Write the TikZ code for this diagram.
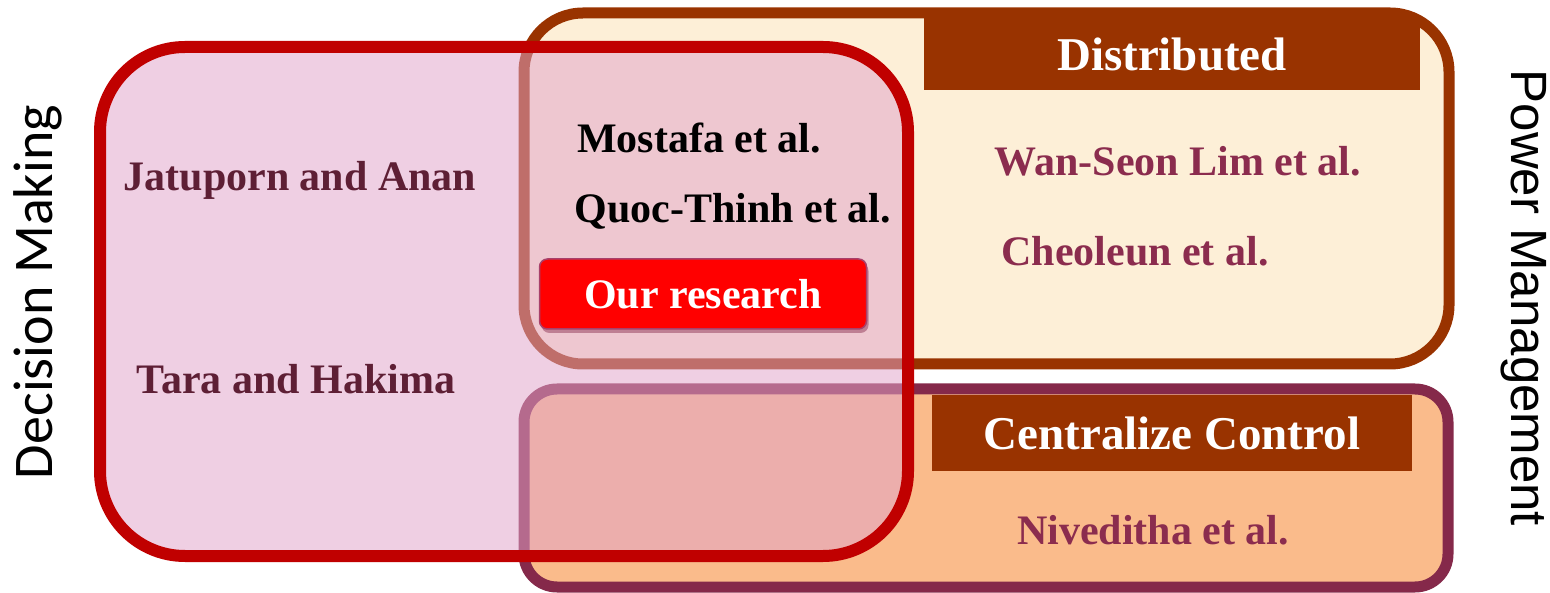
\documentclass[tikz,border=0pt]{standalone}
\usepackage{fontspec}
\setmainfont{Liberation Serif}
\newfontfamily\carlitofont{Carlito}
\newfontfamily\arialfont{Liberation Sans}
\usetikzlibrary{shadows}
\definecolor{brownB}{HTML}{993300}
\definecolor{creamF}{HTML}{FDEFD7}
\definecolor{peachF}{HTML}{FABB8B}
\definecolor{plumB}{HTML}{85294A}
\definecolor{redB}{HTML}{C00000}
\definecolor{pinkF}{RGB}{225,164,202}
\definecolor{darkM}{HTML}{5E1F35}
\definecolor{midM}{HTML}{8B2C4E}
\definecolor{resB}{HTML}{A8406A}
\begin{document}
\begin{tikzpicture}[x=1pt,y=-1pt,
  body/.style={font=\fontsize{42}{50}\selectfont\bfseries, inner sep=0pt},
  hdr/.style={fill=brownB, text=white, font=\fontsize{47}{56}\selectfont\bfseries, inner sep=0pt},
  side/.style={inner sep=0pt, text=black}
]
\useasboundingbox (0,0) rectangle (1550,593);
% top-right box (Distributed)
\draw[fill=creamF, draw=brownB, line width=11pt, rounded corners=59pt] (524,13) rectangle (1449,364);
% bottom-right box (Centralize)
\draw[fill=peachF, draw=plumB, line width=11pt, rounded corners=33pt] (524,389) rectangle (1448,587);
% headers
\node[hdr, minimum width=496pt, minimum height=72pt] (dist) at (1172,54) {Distributed};
\node[hdr, minimum width=480pt, minimum height=76pt] (cent) at (1172,433) {Centralize Control};
% left box (Decision making), translucent fill
\fill[pinkF, fill opacity=0.53, rounded corners=85pt] (100,47) rectangle (908,556);
\draw[draw=redB, line width=12pt, rounded corners=85pt] (100,47) rectangle (908,556);
% texts
\node[body, text=darkM] (jat) at (300,180) {Jatuporn and Anan};
\node[body, text=darkM] (tara) at (296,379) {Tara and Hakima};
\node[body, text=black] (most) at (699,138) {Mostafa et al.};
\node[body, text=black] (quoc) at (733,211) {Quoc-Thinh et al.};
\node[body, text=midM] (wan) at (1178,161) {Wan-Seon Lim et al.};
\node[body, text=midM] (cheo) at (1135,251) {Cheoleun et al.};
\node[body, text=midM] (nive) at (1153,530) {Niveditha et al.};
% our research
\node[fill=red, draw=resB, line width=1.5pt, rounded corners=8pt, text=white,
      minimum width=327pt, minimum height=70pt, inner sep=0pt,
      font=\fontsize{42}{50}\selectfont\bfseries,
      drop shadow={shadow xshift=2pt, shadow yshift=-4pt, opacity=0.45, fill=plumB}] (ours) at (703,294) {Our research};
% side labels
\node[side, rotate=90, font=\carlitofont\fontsize{56}{60}\selectfont] (dm) at (38,292) {Decision Making};
\node[side, rotate=-90, font=\arialfont\fontsize{51}{60}\selectfont] (pm) at (1524,298) {Power Management};
\end{tikzpicture}
\end{document}
